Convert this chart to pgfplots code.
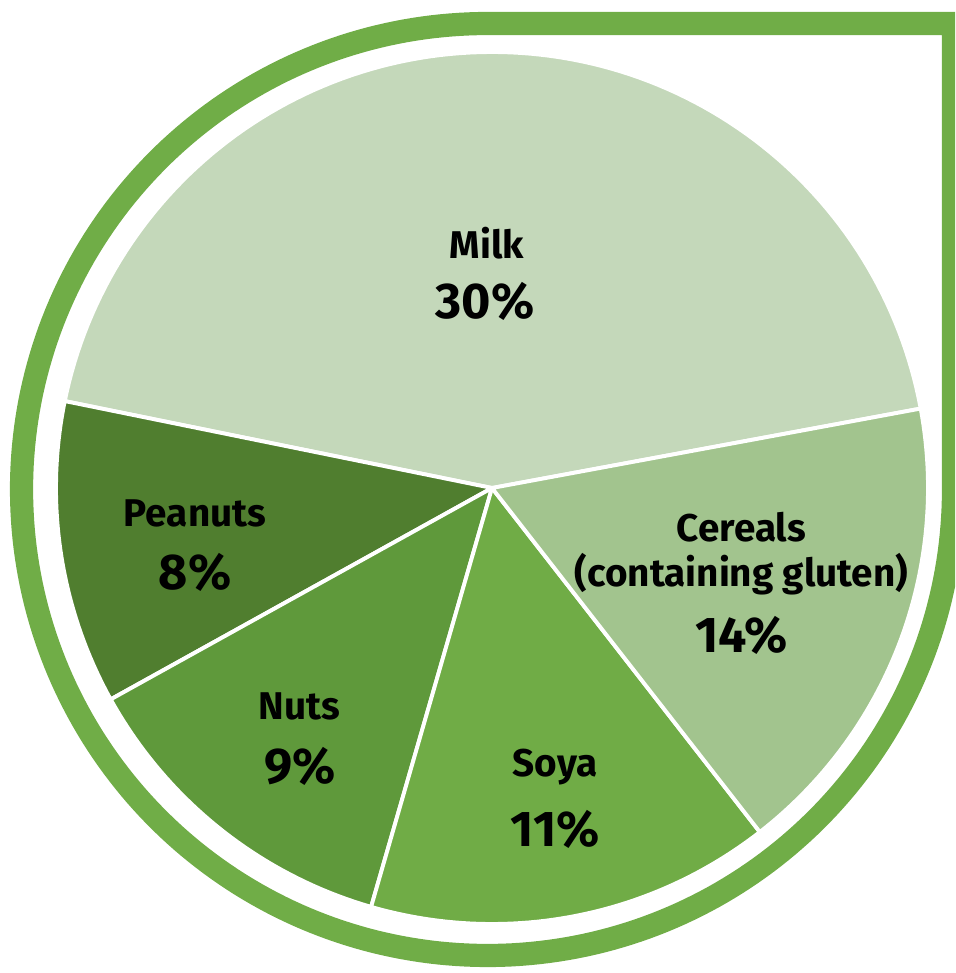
\documentclass[border=0pt]{standalone}
\usepackage{pgfplots}
\pgfplotsset{compat=1.18}
\usepackage{fontspec}
\setmainfont{Fira Sans}
\definecolor{framegreen}{HTML}{70AD47}
\definecolor{cMilk}{HTML}{C4D8BA}
\definecolor{cCereals}{HTML}{A2C48E}
\definecolor{cSoya}{HTML}{70AC46}
\definecolor{cNuts}{HTML}{5F993B}
\definecolor{cPeanuts}{HTML}{507E2F}
\definecolor{txt}{HTML}{1A4210}
% slices: value (%), start angle, end angle (degrees)
% Milk 30 : 10.5 -> 168.5 ; Peanuts 8 : 168.5 -> 209.0 ; Nuts 9 : 209.0 -> 253.9
% Soya 11 : 253.9 -> 307.9 ; Cereals 14 : 307.9 -> 370.5
\newcommand{\nm}[1]{\fontsize{11}{13}\selectfont\bfseries #1}
\newcommand{\pc}[1]{\fontsize{14.3}{16}\selectfont\bfseries #1}
\begin{document}
\begin{tikzpicture}
\begin{axis}[
  scale only axis, width=95.5mm, height=97.3mm,
  xmin=0, xmax=955, ymin=0, ymax=973, y dir=reverse,
  hide axis, clip=true,
  every node/.append style={text=txt, anchor=base, inner sep=0pt},
]
% frame: circle with a square corner at the top right
\addplot[draw=framegreen, line width=6.6pt, line join=miter, domain=90:360, samples=240]
  ({487.5+466*cos(x)}, {489.5-466*sin(x)}) -- (953.5,23.5) -- cycle;
% pie slices
\addplot[fill=cMilk, draw=white, line width=1.1pt, line join=round, domain=10.5:168.5, samples=120]
  ({492+436*cos(x)}, {488-436*sin(x)}) -- (492,488) -- cycle;
\addplot[fill=cPeanuts, draw=white, line width=1.1pt, line join=round, domain=168.5:209.0, samples=40]
  ({492+436*cos(x)}, {488-436*sin(x)}) -- (492,488) -- cycle;
\addplot[fill=cNuts, draw=white, line width=1.1pt, line join=round, domain=209.0:253.9, samples=40]
  ({492+436*cos(x)}, {488-436*sin(x)}) -- (492,488) -- cycle;
\addplot[fill=cSoya, draw=white, line width=1.1pt, line join=round, domain=253.9:307.9, samples=50]
  ({492+436*cos(x)}, {488-436*sin(x)}) -- (492,488) -- cycle;
\addplot[fill=cCereals, draw=white, line width=1.1pt, line join=round, domain=307.9:370.5, samples=60]
  ({492+436*cos(x)}, {488-436*sin(x)}) -- (492,488) -- cycle;
% labels
\node at (487,243) {\nm{Milk}};
\node at (485,301.5) {\pc{30\%}};
\node at (741.5,526.7) {\nm{Cereals}};
\node at (741.5,574) {\nm{(containing gluten)}};
\node at (741.5,635) {\pc{14\%}};
\node at (195,513.3) {\nm{Peanuts}};
\node at (195,572) {\pc{8\%}};
\node at (299.5,706.7) {\nm{Nuts}};
\node at (300,766) {\pc{9\%}};
\node at (555,766.7) {\nm{Soya}};
\node at (555,829) {\pc{11\%}};
\end{axis}
\pgfresetboundingbox
\path[use as bounding box] (current axis.south west) rectangle (current axis.north east);
\end{tikzpicture}
\end{document}
